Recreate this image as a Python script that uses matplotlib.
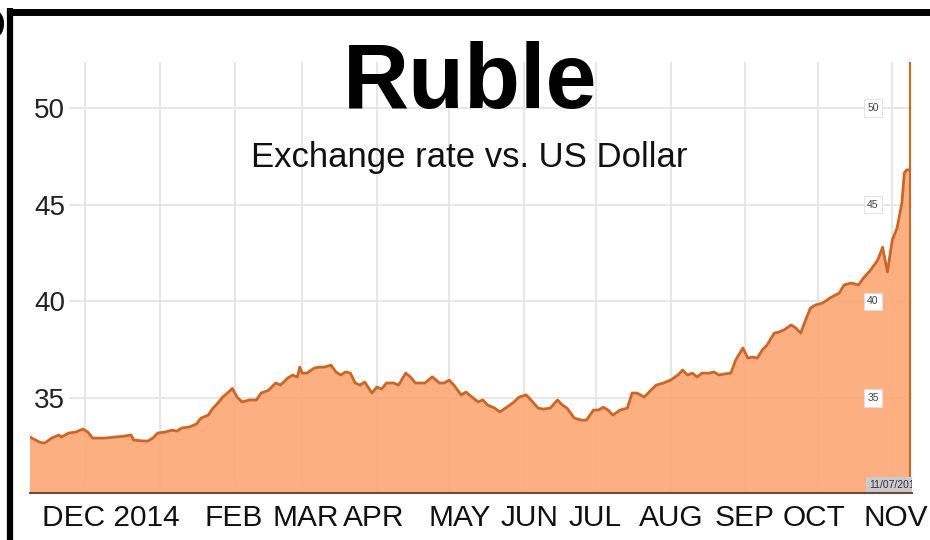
import numpy as np
import matplotlib
matplotlib.use("Agg")
from matplotlib import pyplot as plt
from matplotlib.lines import Line2D

plt.rcParams['font.family'] = ['Liberation Sans', 'DejaVu Sans']

# days since 2013-11-08 and RUB per USD
days = [0, 4, 6, 9, 12, 13, 16, 19, 22, 24, 26, 31, 35, 39, 42, 43, 47, 49, 51, 53,
        56, 59, 61, 63, 66, 69, 71, 74, 76, 78, 80, 82, 84, 86, 88, 91, 94, 96, 99, 102,
        104, 107, 109, 111, 112, 113, 115, 118, 120, 122, 125, 127, 129, 131, 133, 135, 137, 139, 142, 144,
        146, 148, 151, 153, 156, 158, 160, 164, 167, 170, 172, 174, 176, 179, 181, 184, 186, 188, 190, 193,
        195, 198, 201, 203, 206, 208, 211, 213, 216, 219, 221, 223, 226, 229, 231, 234, 236, 238, 240, 242,
        245, 248, 250, 252, 255, 257, 260, 263, 266, 269, 271, 273, 275, 277, 279, 282, 284, 286, 288, 291,
        293, 295, 296, 298, 300, 302, 304, 306, 309, 311, 313, 316, 318, 320, 322, 324, 326, 329, 331, 332,
        336, 338, 341, 344, 346, 349, 352, 354, 356, 358, 360, 362, 363, 364, 365]
rate = [32.98, 32.72, 32.67, 32.93, 33.09, 32.98, 33.19, 33.24, 33.40, 33.24, 32.93, 32.93, 32.98, 33.03, 33.09, 32.83, 32.78, 32.78, 32.93, 33.19,
        33.24, 33.34, 33.29, 33.45, 33.50, 33.65, 33.96, 34.12, 34.48, 34.74, 35.05, 35.26, 35.50, 35.05, 34.80, 34.90, 34.90, 35.26, 35.40, 35.78,
        35.67, 36.03, 36.19, 36.09, 36.60, 36.29, 36.29, 36.55, 36.60, 36.60, 36.70, 36.35, 36.19, 36.35, 36.29, 35.78, 35.67, 35.83, 35.26, 35.57,
        35.47, 35.78, 35.78, 35.67, 36.29, 36.09, 35.78, 35.78, 36.10, 35.78, 35.78, 35.93, 35.67, 35.16, 35.31, 35.00, 34.80, 34.90, 34.64, 34.48,
        34.28, 34.53, 34.80, 35.05, 35.16, 34.90, 34.48, 34.43, 34.48, 34.90, 34.64, 34.48, 33.96, 33.86, 33.86, 34.38, 34.38, 34.53, 34.38, 34.12,
        34.38, 34.48, 35.26, 35.26, 35.05, 35.31, 35.67, 35.78, 35.93, 36.19, 36.45, 36.19, 36.29, 36.09, 36.29, 36.29, 36.35, 36.19, 36.24, 36.29,
        36.97, 37.38, 37.59, 37.07, 37.12, 37.07, 37.48, 37.74, 38.36, 38.41, 38.52, 38.78, 38.62, 38.36, 39.03, 39.65, 39.81, 39.91, 40.07, 40.17,
        40.43, 40.85, 40.95, 40.85, 41.20, 41.62, 42.14, 42.80, 41.52, 43.17, 43.80, 45.09, 46.64, 46.80, 46.80]

y_ticks = [35, 40, 45, 50]
month_labels = ["DEC 2014", "FEB", "MAR", "APR", "MAY", "JUN", "JUL", "AUG", "SEP", "OCT", "NOV"]
label_pos = [33.6, 84.7, 114.6, 142.8, 178.6, 207.6, 234.6, 266.2, 296.9, 325.6, 359.5]
last_date = "11/07/2014"

start = np.datetime64("2013-11-08")
month_starts = np.arange("2013-12", "2014-12", dtype="datetime64[M]").astype("datetime64[D]")
grid_days = (month_starts - start).astype(int)

fill_col = "#fcaa78"
line_col = "#cc6628"

fig = plt.figure(figsize=(9.3, 5.4), dpi=100)
ax = fig.add_axes([30 / 930, 1 - 493 / 540, 882 / 930, 431 / 540])
ax.set_xlim(0, 366.2)
ax.set_ylim(30.09, 52.38)

for g in grid_days:
    ax.axvline(g, color="#e6e6e6", lw=1.4, zorder=0)
for v in y_ticks:
    ax.axhline(v, xmin=40 / 882, color="#e6e6e6", lw=1.4, zorder=0)

ax.fill_between(days, 0, rate, color=fill_col, alpha=0.94, lw=0, zorder=1)
ax.plot(days, rate, color=line_col, lw=2, zorder=2)
ax.axvline(days[-1] + 0.4, color=line_col, lw=1.5, zorder=3)

# small boxed labels near the right edge
for v in y_ticks:
    ax.text(350, v, str(v), fontsize=7.5, color="#444444", ha="center", va="center",
            bbox=dict(boxstyle="square,pad=0.35", fc="white", ec="#dddddd", lw=0.6), zorder=4)
ax.text(348.3, 30.5, last_date, fontsize=7.5, color="#333333", ha="left", va="center",
        bbox=dict(boxstyle="square,pad=0.3", fc="#c9cbcf", ec="none"), zorder=4, clip_on=True)

ax.set_yticks(y_ticks)
ax.set_yticklabels([str(v) for v in y_ticks], fontsize=20, color="#222222")
ax.tick_params(axis="y", length=0, pad=-25.2)
ax.set_xticks(label_pos)
ax.set_xticklabels(month_labels, fontsize=21.5, color="#111111")
ax.tick_params(axis="x", length=0, pad=8)

for s in ["top", "right", "left"]:
    ax.spines[s].set_visible(False)
ax.spines["bottom"].set_color("#6e4b3a")
ax.spines["bottom"].set_linewidth(1.5)
ax.spines["bottom"].set_zorder(5)

fig.text(0.506, 0.80, "Ruble", fontsize=66, fontweight="bold", ha="center", va="baseline")
fig.text(0.505, 0.691, "Exchange rate vs. US Dollar", fontsize=25, ha="center", va="baseline",
         color="#111111")

# black frame on the top and left edges
fig.add_artist(Line2D([7 / 930, 1], [1 - 11.5 / 540] * 2, color="black", lw=5, solid_capstyle="butt"))
fig.add_artist(Line2D([10 / 930] * 2, [0, 1 - 8 / 540], color="black", lw=4.5, solid_capstyle="butt"))
fig.text(6 / 930, 1 - 28 / 540, "D", fontsize=34, fontweight="bold", ha="right", va="center")

plt.savefig("out.png", dpi=100)
